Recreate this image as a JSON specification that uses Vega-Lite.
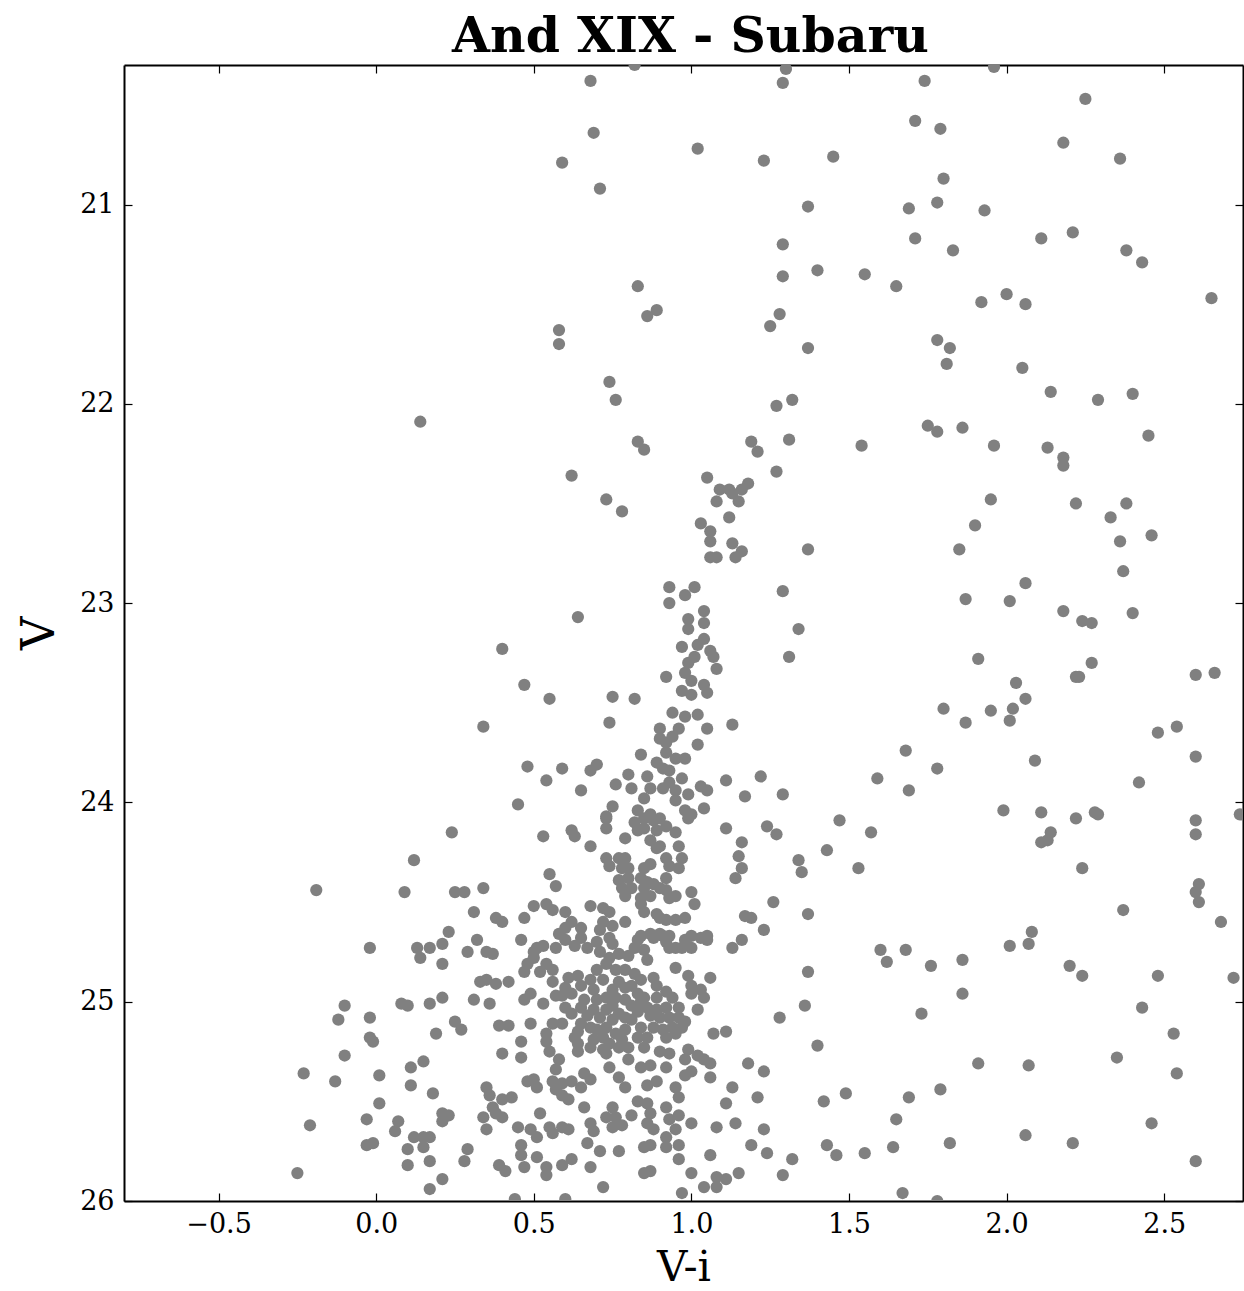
{
"$schema": "https://vega.github.io/schema/vega-lite/v6.json",
"width": 1119, "height": 1136,
"autosize": {"type": "none"},
"padding": {"left": 124, "top": 65, "right": 1, "bottom": 90},
"background": "white",
"title": {"text": "And XIX - Subaru", "font": "DejaVu Serif", "fontSize": 49, "fontWeight": "bold", "color": "black", "offset": 0, "dy": 0, "dx": 7, "anchor": "middle"},
"config": {"view": {"stroke": null},
 "axis": {"grid": false, "domainColor": "black", "domainWidth": 2, "tickColor": "black", "tickWidth": 1.2, "tickSize": -8, "labelFont": "DejaVu Serif", "labelFontSize": 27, "labelColor": "black", "titleFont": "DejaVu Serif", "titleFontWeight": "normal", "titleColor": "black"}},
"datasets": {"pts": [
{"vi":0.82,"V":20.30},{"vi":0.68,"V":20.38},{"vi":1.30,"V":20.32},{"vi":1.29,"V":20.39},{"vi":0.69,"V":20.64},{"vi":1.02,"V":20.72},{"vi":0.59,"V":20.79},{"vi":1.23,"V":20.78},{"vi":1.45,"V":20.76},{"vi":0.71,"V":20.92},{"vi":1.37,"V":21.01},{"vi":1.29,"V":21.20},{"vi":1.40,"V":21.33},{"vi":1.29,"V":21.36},{"vi":0.83,"V":21.41},{"vi":0.89,"V":21.53},{"vi":0.86,"V":21.56},{"vi":0.58,"V":21.63},{"vi":0.58,"V":21.70},{"vi":1.28,"V":21.55},{"vi":1.25,"V":21.61},{"vi":1.37,"V":21.72},{"vi":0.74,"V":21.89},{"vi":0.76,"V":21.98},{"vi":1.27,"V":22.01},{"vi":1.32,"V":21.98},{"vi":0.83,"V":22.19},{"vi":0.85,"V":22.23},{"vi":1.19,"V":22.19},{"vi":1.21,"V":22.24},{"vi":1.31,"V":22.18},{"vi":0.62,"V":22.36},{"vi":1.05,"V":22.37},{"vi":1.27,"V":22.34},{"vi":1.09,"V":22.43},{"vi":1.12,"V":22.43},{"vi":1.16,"V":22.43},{"vi":1.18,"V":22.40},{"vi":1.13,"V":22.45},{"vi":1.08,"V":22.49},{"vi":1.15,"V":22.49},{"vi":0.73,"V":22.48},{"vi":0.78,"V":22.54},{"vi":1.12,"V":22.57},{"vi":1.03,"V":22.60},{"vi":1.06,"V":22.64},{"vi":1.06,"V":22.69},{"vi":1.13,"V":22.70},{"vi":1.16,"V":22.74},{"vi":1.37,"V":22.73},{"vi":1.06,"V":22.77},{"vi":1.08,"V":22.77},{"vi":1.14,"V":22.77},{"vi":0.14,"V":22.09},
{"vi":1.74,"V":20.38},{"vi":1.96,"V":20.31},{"vi":2.25,"V":20.47},{"vi":1.71,"V":20.58},{"vi":1.79,"V":20.62},{"vi":2.18,"V":20.69},{"vi":2.36,"V":20.77},{"vi":1.80,"V":20.87},{"vi":1.69,"V":21.02},{"vi":1.78,"V":20.99},{"vi":1.93,"V":21.03},{"vi":1.71,"V":21.17},{"vi":1.83,"V":21.23},{"vi":2.11,"V":21.17},{"vi":2.21,"V":21.14},{"vi":2.38,"V":21.23},{"vi":2.43,"V":21.29},{"vi":1.55,"V":21.35},{"vi":1.65,"V":21.41},{"vi":2.00,"V":21.45},{"vi":1.92,"V":21.49},{"vi":2.06,"V":21.50},{"vi":2.65,"V":21.47},{"vi":1.78,"V":21.68},{"vi":1.82,"V":21.72},{"vi":1.81,"V":21.80},{"vi":2.05,"V":21.82},{"vi":2.14,"V":21.94},{"vi":2.29,"V":21.98},{"vi":2.40,"V":21.95},{"vi":1.54,"V":22.21},{"vi":1.75,"V":22.11},{"vi":1.78,"V":22.14},{"vi":1.86,"V":22.12},{"vi":1.96,"V":22.21},{"vi":2.13,"V":22.22},{"vi":2.18,"V":22.27},{"vi":2.18,"V":22.31},{"vi":2.45,"V":22.16},{"vi":2.22,"V":22.50},{"vi":2.38,"V":22.50},{"vi":1.95,"V":22.48},{"vi":1.90,"V":22.61},{"vi":2.33,"V":22.57},{"vi":1.85,"V":22.73},{"vi":2.46,"V":22.66},{"vi":2.36,"V":22.69},{"vi":2.37,"V":22.84},{"vi":1.87,"V":22.98},{"vi":1.29,"V":22.94},
{"vi":2.06,"V":22.90},{"vi":2.01,"V":22.99},{"vi":2.18,"V":23.04},{"vi":2.24,"V":23.09},{"vi":2.27,"V":23.10},{"vi":2.40,"V":23.05},{"vi":1.34,"V":23.13},{"vi":1.31,"V":23.27},{"vi":1.91,"V":23.28},{"vi":2.27,"V":23.30},{"vi":2.22,"V":23.37},{"vi":2.23,"V":23.37},{"vi":2.60,"V":23.36},{"vi":2.66,"V":23.35},{"vi":2.03,"V":23.40},{"vi":2.06,"V":23.48},{"vi":1.80,"V":23.53},{"vi":1.95,"V":23.54},{"vi":2.02,"V":23.53},{"vi":2.01,"V":23.59},{"vi":1.87,"V":23.60},{"vi":2.54,"V":23.62},{"vi":2.48,"V":23.65},{"vi":1.68,"V":23.74},{"vi":2.09,"V":23.79},{"vi":2.60,"V":23.77},{"vi":1.78,"V":23.83},{"vi":1.59,"V":23.88},{"vi":2.42,"V":23.90},{"vi":1.69,"V":23.94},{"vi":1.29,"V":23.96},{"vi":1.99,"V":24.04},{"vi":2.11,"V":24.05},{"vi":2.28,"V":24.05},{"vi":2.29,"V":24.06},{"vi":2.22,"V":24.08},{"vi":2.60,"V":24.09},{"vi":2.74,"V":24.06},{"vi":1.47,"V":24.09},{"vi":1.57,"V":24.15},{"vi":2.14,"V":24.15},{"vi":2.13,"V":24.19},{"vi":2.11,"V":24.20},{"vi":2.60,"V":24.16},{"vi":1.43,"V":24.24},{"vi":1.34,"V":24.29},{"vi":1.35,"V":24.35},{"vi":1.53,"V":24.33},{"vi":2.24,"V":24.33},{"vi":2.60,"V":24.45},{"vi":2.61,"V":24.41},{"vi":2.61,"V":24.50},{"vi":2.37,"V":24.54},{"vi":1.37,"V":24.56},{"vi":2.68,"V":24.60},{"vi":2.08,"V":24.65},{"vi":2.07,"V":24.71},{"vi":2.01,"V":24.72},{"vi":1.68,"V":24.74},{"vi":1.60,"V":24.74},{"vi":1.62,"V":24.80},{"vi":1.76,"V":24.82},{"vi":1.86,"V":24.79},{"vi":2.20,"V":24.82},{"vi":2.24,"V":24.87},{"vi":2.48,"V":24.87},{"vi":2.72,"V":24.88},{"vi":1.37,"V":24.85},{"vi":1.86,"V":24.96},{"vi":2.43,"V":25.03},{"vi":1.36,"V":25.02},{"vi":1.73,"V":25.06},{"vi":1.28,"V":25.08},{"vi":2.53,"V":25.16},{"vi":1.40,"V":25.22},{"vi":2.35,"V":25.28},{"vi":1.91,"V":25.31},{"vi":2.07,"V":25.32},{"vi":2.54,"V":25.36},{"vi":1.79,"V":25.44},{"vi":1.69,"V":25.48},{"vi":1.49,"V":25.46},{"vi":1.42,"V":25.50},{"vi":1.65,"V":25.59},{"vi":2.46,"V":25.61},{"vi":2.06,"V":25.67},{"vi":1.82,"V":25.71},{"vi":1.43,"V":25.72},{"vi":1.64,"V":25.73},{"vi":1.55,"V":25.76},{"vi":1.46,"V":25.77},{"vi":2.21,"V":25.71},{"vi":2.60,"V":25.80},{"vi":1.32,"V":25.79},{"vi":1.67,"V":25.96},{"vi":1.78,"V":26.00},
{"vi":0.93,"V":22.92},{"vi":1.01,"V":22.92},{"vi":0.98,"V":22.96},{"vi":0.93,"V":23.00},{"vi":0.64,"V":23.07},{"vi":1.04,"V":23.04},{"vi":0.99,"V":23.08},{"vi":1.04,"V":23.10},{"vi":0.99,"V":23.13},{"vi":1.04,"V":23.18},{"vi":1.02,"V":23.21},{"vi":1.06,"V":23.24},{"vi":1.07,"V":23.27},{"vi":0.97,"V":23.22},{"vi":1.01,"V":23.27},{"vi":0.99,"V":23.30},{"vi":1.08,"V":23.33},{"vi":0.98,"V":23.35},{"vi":0.92,"V":23.37},{"vi":1.00,"V":23.39},{"vi":1.04,"V":23.41},{"vi":0.97,"V":23.44},{"vi":1.00,"V":23.46},{"vi":1.05,"V":23.45},{"vi":0.75,"V":23.47},{"vi":0.82,"V":23.48},{"vi":0.94,"V":23.55},{"vi":0.98,"V":23.57},{"vi":1.02,"V":23.56},{"vi":0.74,"V":23.60},{"vi":1.13,"V":23.61},{"vi":0.90,"V":23.63},{"vi":0.96,"V":23.63},{"vi":1.05,"V":23.63},{"vi":0.90,"V":23.68},{"vi":0.94,"V":23.67},{"vi":0.92,"V":23.70},{"vi":1.02,"V":23.71},{"vi":0.84,"V":23.76},{"vi":0.92,"V":23.75},{"vi":0.95,"V":23.78},{"vi":0.98,"V":23.78},{"vi":0.89,"V":23.80},{"vi":0.91,"V":23.83},{"vi":0.93,"V":23.84},{"vi":0.59,"V":23.83},{"vi":0.68,"V":23.84},{"vi":0.70,"V":23.81},{"vi":0.80,"V":23.86},{"vi":0.86,"V":23.87},{"vi":0.97,"V":23.88},{"vi":1.22,"V":23.87},{"vi":1.11,"V":23.89},{"vi":0.65,"V":23.94},{"vi":0.76,"V":23.91},{"vi":0.81,"V":23.93},{"vi":0.93,"V":23.90},{"vi":0.91,"V":23.93},{"vi":0.95,"V":23.94},{"vi":1.03,"V":23.92},{"vi":1.05,"V":23.94},{"vi":0.87,"V":23.93},{"vi":0.99,"V":23.96},{"vi":1.17,"V":23.97},{"vi":0.85,"V":23.98},{"vi":0.95,"V":23.99},{"vi":0.75,"V":24.02},{"vi":0.73,"V":24.07},{"vi":0.83,"V":24.04},{"vi":0.87,"V":24.06},{"vi":0.98,"V":24.04},{"vi":1.04,"V":24.03},{"vi":1.00,"V":24.06},
{"vi":0.40,"V":23.23},{"vi":0.47,"V":23.41},{"vi":0.55,"V":23.48},{"vi":0.34,"V":23.62},{"vi":0.48,"V":23.82},{"vi":0.54,"V":23.89},{"vi":0.45,"V":24.01},
{"vi":0.62,"V":24.14},{"vi":0.63,"V":24.17},{"vi":0.73,"V":24.08},{"vi":0.73,"V":24.13},{"vi":0.68,"V":24.22},{"vi":0.79,"V":24.18},{"vi":0.82,"V":24.10},{"vi":0.85,"V":24.08},{"vi":0.88,"V":24.09},{"vi":0.90,"V":24.08},{"vi":0.83,"V":24.14},{"vi":0.85,"V":24.13},{"vi":0.89,"V":24.14},{"vi":0.92,"V":24.12},{"vi":0.95,"V":24.15},{"vi":0.87,"V":24.19},{"vi":0.90,"V":24.22},{"vi":0.89,"V":24.23},{"vi":0.96,"V":24.22},{"vi":0.99,"V":24.08},{"vi":0.73,"V":24.28},{"vi":0.77,"V":24.28},{"vi":0.79,"V":24.28},{"vi":0.74,"V":24.32},{"vi":0.78,"V":24.33},{"vi":0.80,"V":24.33},{"vi":0.85,"V":24.33},{"vi":0.87,"V":24.31},{"vi":0.92,"V":24.28},{"vi":0.97,"V":24.28},{"vi":0.93,"V":24.32},{"vi":0.96,"V":24.33},{"vi":0.92,"V":24.38},{"vi":0.77,"V":24.39},{"vi":0.80,"V":24.38},{"vi":0.84,"V":24.38},{"vi":0.86,"V":24.40},{"vi":0.88,"V":24.41},{"vi":0.90,"V":24.43},{"vi":0.78,"V":24.43},{"vi":0.81,"V":24.43},{"vi":0.85,"V":24.43},{"vi":0.79,"V":24.47},{"vi":0.84,"V":24.48},{"vi":0.87,"V":24.47},{"vi":0.92,"V":24.44},{"vi":0.95,"V":24.47},{"vi":0.93,"V":24.48},{"vi":1.00,"V":24.45},{"vi":1.01,"V":24.51},{"vi":0.84,"V":24.51},{"vi":0.85,"V":24.55},{"vi":0.68,"V":24.52},{"vi":0.72,"V":24.53},{"vi":0.74,"V":24.55},{"vi":0.60,"V":24.55},{"vi":0.89,"V":24.56},{"vi":0.90,"V":24.58},{"vi":0.92,"V":24.59},{"vi":0.95,"V":24.59},{"vi":0.98,"V":24.58},{"vi":0.79,"V":24.60},{"vi":0.72,"V":24.60},{"vi":0.75,"V":24.62},{"vi":0.71,"V":24.64},{"vi":0.62,"V":24.60},{"vi":0.65,"V":24.63},{"vi":0.60,"V":24.63},{"vi":0.84,"V":24.67},{"vi":0.87,"V":24.66},{"vi":0.90,"V":24.66},{"vi":0.93,"V":24.67},{"vi":1.05,"V":24.67},
{"vi":0.53,"V":24.17},{"vi":0.55,"V":24.36},{"vi":0.57,"V":24.42},{"vi":0.50,"V":24.52},{"vi":0.54,"V":24.51},{"vi":0.56,"V":24.54},{"vi":0.47,"V":24.58},{"vi":0.58,"V":24.66},{"vi":0.51,"V":24.73},{"vi":0.53,"V":24.72},{"vi":0.50,"V":24.75},{"vi":0.50,"V":24.78},{"vi":0.57,"V":24.73},{"vi":0.46,"V":24.69},{"vi":0.48,"V":24.81},{"vi":0.47,"V":24.85},{"vi":0.54,"V":24.81},{"vi":0.56,"V":24.84},{"vi":0.52,"V":24.85},{"vi":0.47,"V":24.99},{"vi":0.49,"V":24.96},{"vi":0.53,"V":25.01},{"vi":0.57,"V":24.97},{"vi":1.03,"V":24.68},{"vi":0.98,"V":24.69},{"vi":0.97,"V":24.73},{"vi":1.00,"V":24.73},
{"vi":0.60,"V":24.69},{"vi":0.63,"V":24.72},{"vi":0.65,"V":24.68},{"vi":0.67,"V":24.73},{"vi":0.70,"V":24.70},{"vi":0.74,"V":24.68},{"vi":0.75,"V":24.71},{"vi":0.83,"V":24.69},{"vi":0.82,"V":24.73},{"vi":0.85,"V":24.74},{"vi":0.80,"V":24.77},{"vi":0.86,"V":24.79},{"vi":0.88,"V":24.68},{"vi":0.91,"V":24.67},{"vi":0.93,"V":24.73},{"vi":0.95,"V":24.73},{"vi":0.92,"V":24.70},{"vi":1.00,"V":24.67},{"vi":1.05,"V":24.69},{"vi":0.95,"V":24.83},{"vi":0.88,"V":24.88},{"vi":0.99,"V":24.87},{"vi":1.00,"V":24.92},{"vi":1.03,"V":24.94},{"vi":1.00,"V":24.96},{"vi":1.06,"V":24.88},{"vi":1.04,"V":24.98},{"vi":1.02,"V":25.04},{"vi":1.07,"V":25.16},{"vi":0.61,"V":24.88},{"vi":0.60,"V":24.93},{"vi":0.62,"V":24.96},{"vi":0.65,"V":24.92},{"vi":0.68,"V":24.89},{"vi":0.70,"V":24.84},{"vi":0.73,"V":24.81},{"vi":0.74,"V":24.78},{"vi":0.77,"V":24.76},{"vi":0.76,"V":24.84},{"vi":0.72,"V":24.89},{"vi":0.69,"V":24.94},{"vi":0.59,"V":24.97},{"vi":0.79,"V":24.84},{"vi":0.82,"V":24.86},{"vi":0.84,"V":24.89},{"vi":0.81,"V":24.92},{"vi":0.79,"V":24.93},{"vi":0.83,"V":24.96},{"vi":0.85,"V":24.98},{"vi":0.77,"V":24.90},{"vi":0.75,"V":24.94},{"vi":0.73,"V":24.98},{"vi":0.76,"V":24.98},{"vi":0.79,"V":24.99},{"vi":0.84,"V":25.00},{"vi":0.86,"V":25.03},{"vi":0.89,"V":24.98},{"vi":0.94,"V":24.98},{"vi":0.96,"V":25.03},{"vi":0.92,"V":25.03},{"vi":0.89,"V":25.04},{"vi":0.90,"V":25.08},{"vi":0.93,"V":25.08},{"vi":0.96,"V":25.08},{"vi":0.98,"V":25.10},{"vi":0.94,"V":25.13},{"vi":0.91,"V":25.14},{"vi":0.88,"V":25.13},{"vi":0.95,"V":25.16},{"vi":0.92,"V":25.18},{"vi":0.62,"V":25.06},{"vi":0.65,"V":25.03},{"vi":0.67,"V":25.07},{"vi":0.69,"V":25.04},{"vi":0.71,"V":25.08},{"vi":0.73,"V":25.04},{"vi":0.65,"V":25.11},{"vi":0.68,"V":25.13},{"vi":0.70,"V":25.14},{"vi":0.73,"V":25.13},{"vi":0.75,"V":25.09},{"vi":0.77,"V":25.06},{"vi":0.79,"V":25.08},{"vi":0.81,"V":25.09},{"vi":0.84,"V":25.13},{"vi":0.79,"V":25.14},{"vi":0.76,"V":25.16},{"vi":0.72,"V":25.18},{"vi":0.69,"V":25.19},{"vi":0.74,"V":25.21},{"vi":0.78,"V":25.19},{"vi":0.83,"V":25.18},{"vi":0.86,"V":25.18},{"vi":0.85,"V":25.23},{"vi":0.80,"V":25.23},{"vi":0.77,"V":25.23},{"vi":0.72,"V":25.24},{"vi":0.68,"V":25.23},{"vi":0.64,"V":25.21},{"vi":0.63,"V":25.18},{"vi":0.59,"V":25.11},{"vi":0.90,"V":25.25},{"vi":0.93,"V":25.26},{"vi":0.99,"V":25.24},{"vi":1.02,"V":25.27},
{"vi":0.66,"V":24.99},{"vi":0.70,"V":24.99},{"vi":0.81,"V":25.02},{"vi":0.87,"V":25.07},{"vi":0.83,"V":25.05},{"vi":0.75,"V":25.02},{"vi":0.60,"V":25.03},{"vi":0.64,"V":24.87},{"vi":0.56,"V":24.90},{"vi":0.89,"V":24.92},{"vi":0.92,"V":24.95},{"vi":0.97,"V":25.13},{"vi":0.71,"V":24.75},{"vi":0.64,"V":25.15},
{"vi":0.49,"V":25.11},{"vi":0.56,"V":25.11},{"vi":0.54,"V":25.16},{"vi":0.54,"V":25.20},{"vi":0.46,"V":25.20},{"vi":0.46,"V":25.28},{"vi":0.64,"V":25.25},{"vi":0.73,"V":25.26},{"vi":0.74,"V":25.33},{"vi":0.55,"V":25.25},{"vi":0.58,"V":25.29},{"vi":0.57,"V":25.34},{"vi":0.80,"V":25.29},{"vi":0.84,"V":25.33},{"vi":0.87,"V":25.32},{"vi":0.92,"V":25.33},{"vi":0.98,"V":25.29},{"vi":1.04,"V":25.29},{"vi":1.06,"V":25.31},{"vi":1.00,"V":25.35},{"vi":0.98,"V":25.37},{"vi":1.11,"V":25.15},{"vi":1.18,"V":25.31},{"vi":1.06,"V":25.38},{"vi":0.48,"V":25.40},{"vi":0.50,"V":25.39},{"vi":0.51,"V":25.43},{"vi":0.56,"V":25.40},{"vi":0.59,"V":25.41},{"vi":0.57,"V":25.44},{"vi":0.59,"V":25.47},{"vi":0.62,"V":25.40},{"vi":0.66,"V":25.36},{"vi":0.68,"V":25.39},{"vi":0.65,"V":25.43},{"vi":0.77,"V":25.38},{"vi":0.79,"V":25.43},{"vi":0.86,"V":25.42},{"vi":0.89,"V":25.40},{"vi":0.95,"V":25.43},{"vi":0.96,"V":25.48},{"vi":0.61,"V":25.49},{"vi":0.66,"V":25.53},{"vi":1.13,"V":25.43},{"vi":1.11,"V":25.51},{"vi":0.83,"V":25.50},{"vi":0.86,"V":25.51},{"vi":0.87,"V":25.56},{"vi":0.86,"V":25.61},{"vi":0.88,"V":25.64},{"vi":0.75,"V":25.53},{"vi":0.73,"V":25.58},{"vi":0.76,"V":25.58},{"vi":0.78,"V":25.62},{"vi":0.75,"V":25.63},{"vi":0.81,"V":25.57},{"vi":0.92,"V":25.53},{"vi":0.93,"V":25.59},{"vi":0.96,"V":25.57},{"vi":0.95,"V":25.64},{"vi":0.92,"V":25.68},{"vi":1.00,"V":25.61},{"vi":0.52,"V":25.56},{"vi":0.45,"V":25.63},{"vi":0.49,"V":25.64},{"vi":0.51,"V":25.68},{"vi":0.55,"V":25.63},{"vi":0.56,"V":25.66},{"vi":0.59,"V":25.63},{"vi":0.61,"V":25.64},{"vi":0.68,"V":25.61},{"vi":0.69,"V":25.65},{"vi":0.67,"V":25.71},{"vi":0.71,"V":25.75},{"vi":0.77,"V":25.75},{"vi":0.85,"V":25.73},{"vi":0.87,"V":25.72},{"vi":0.92,"V":25.73},{"vi":0.96,"V":25.72},{"vi":0.96,"V":25.79},{"vi":1.08,"V":25.63},{"vi":1.14,"V":25.61},{"vi":1.19,"V":25.72},{"vi":1.06,"V":25.77},{"vi":0.46,"V":25.72},{"vi":0.46,"V":25.77},{"vi":0.47,"V":25.83},{"vi":0.51,"V":25.78},{"vi":0.54,"V":25.83},{"vi":0.54,"V":25.87},{"vi":0.59,"V":25.82},{"vi":0.62,"V":25.79},{"vi":0.68,"V":25.83},{"vi":0.85,"V":25.86},{"vi":0.87,"V":25.85},{"vi":0.72,"V":25.93},{"vi":1.00,"V":25.86},{"vi":1.04,"V":25.93},{"vi":1.08,"V":25.88},{"vi":1.11,"V":25.89},{"vi":1.15,"V":25.86},{"vi":0.97,"V":25.96},{"vi":0.60,"V":25.99},{"vi":0.44,"V":25.99},{"vi":1.08,"V":25.93},
{"vi":1.24,"V":24.12},{"vi":1.27,"V":24.16},{"vi":1.26,"V":24.50},{"vi":1.17,"V":24.57},{"vi":1.19,"V":24.58},{"vi":1.23,"V":24.64},{"vi":1.16,"V":24.69},{"vi":1.13,"V":24.73},{"vi":1.23,"V":25.35},{"vi":1.21,"V":25.48},{"vi":1.23,"V":25.64},{"vi":1.24,"V":25.76},{"vi":1.29,"V":25.87},{"vi":1.11,"V":24.13},{"vi":1.16,"V":24.20},{"vi":1.15,"V":24.27},{"vi":1.16,"V":24.33},{"vi":1.14,"V":24.38},
{"vi":0.24,"V":24.15},{"vi":0.12,"V":24.29},{"vi":-0.19,"V":24.44},{"vi":0.09,"V":24.45},{"vi":0.25,"V":24.45},{"vi":0.28,"V":24.45},{"vi":0.34,"V":24.43},{"vi":0.31,"V":24.55},{"vi":0.38,"V":24.58},{"vi":0.40,"V":24.60},{"vi":0.23,"V":24.65},{"vi":0.32,"V":24.69},{"vi":-0.02,"V":24.73},{"vi":0.13,"V":24.73},{"vi":0.17,"V":24.73},{"vi":0.21,"V":24.71},{"vi":0.14,"V":24.78},{"vi":0.21,"V":24.81},{"vi":0.29,"V":24.75},{"vi":0.35,"V":24.75},{"vi":0.37,"V":24.76},{"vi":0.33,"V":24.90},{"vi":0.35,"V":24.89},{"vi":0.38,"V":24.91},{"vi":0.42,"V":24.90},{"vi":-0.10,"V":25.02},{"vi":0.08,"V":25.01},{"vi":0.10,"V":25.02},{"vi":0.17,"V":25.01},{"vi":0.21,"V":24.98},{"vi":0.31,"V":24.99},{"vi":0.36,"V":25.01},
{"vi":-0.12,"V":25.09},{"vi":-0.02,"V":25.08},{"vi":0.25,"V":25.10},{"vi":0.27,"V":25.14},{"vi":0.19,"V":25.16},{"vi":0.39,"V":25.12},{"vi":0.42,"V":25.12},{"vi":-0.02,"V":25.18},{"vi":-0.01,"V":25.20},{"vi":-0.10,"V":25.27},{"vi":0.40,"V":25.26},{"vi":0.15,"V":25.30},{"vi":0.11,"V":25.33},{"vi":-0.23,"V":25.36},{"vi":-0.13,"V":25.40},{"vi":0.01,"V":25.37},{"vi":0.11,"V":25.42},{"vi":0.18,"V":25.46},{"vi":0.35,"V":25.43},{"vi":0.36,"V":25.47},{"vi":0.40,"V":25.49},{"vi":0.43,"V":25.48},{"vi":0.01,"V":25.51},{"vi":0.21,"V":25.56},{"vi":0.23,"V":25.57},{"vi":0.21,"V":25.60},{"vi":0.37,"V":25.53},{"vi":0.38,"V":25.56},{"vi":0.40,"V":25.58},{"vi":0.34,"V":25.58},{"vi":-0.03,"V":25.59},{"vi":0.07,"V":25.60},{"vi":0.06,"V":25.65},{"vi":-0.21,"V":25.62},{"vi":0.35,"V":25.64},{"vi":0.12,"V":25.68},{"vi":0.15,"V":25.68},{"vi":0.17,"V":25.68},{"vi":0.10,"V":25.74},{"vi":0.15,"V":25.73},{"vi":-0.03,"V":25.72},{"vi":-0.01,"V":25.71},{"vi":0.29,"V":25.74},{"vi":0.28,"V":25.80},{"vi":0.17,"V":25.80},{"vi":0.10,"V":25.82},{"vi":0.39,"V":25.82},{"vi":0.41,"V":25.85},{"vi":-0.25,"V":25.86},{"vi":0.21,"V":25.89},{"vi":0.17,"V":25.94}
]},
"data": {"name": "pts"},
"layer": [
 {"mark": {"type": "point", "filled": true, "color": "#808080", "size": 150, "opacity": 1, "clip": true},
  "encoding": {
   "x": {"field": "vi", "type": "quantitative", "scale": {"domain": [-0.8, 2.75], "nice": false, "zero": false},
         "axis": {"orient": "bottom", "values": [-0.5, 0, 0.5, 1, 1.5, 2, 2.5], "format": ".1f", "labelPadding": 18, "title": "V-i", "titleFontSize": 42, "titlePadding": 10}},
   "y": {"field": "V", "type": "quantitative", "scale": {"domain": [20.3, 26], "reverse": true, "nice": false, "zero": false},
         "axis": {"orient": "left", "values": [21, 22, 23, 24, 25, 26], "format": "d", "labelPadding": 18, "title": "V", "titleFontSize": 46, "titlePadding": 16}}
  }},
 {"mark": {"type": "point", "opacity": 0},
  "encoding": {
   "x": {"field": "vi", "type": "quantitative", "scale": {"domain": [-0.8, 2.75], "nice": false, "zero": false},
         "axis": {"orient": "top", "values": [-0.5, 0, 0.5, 1, 1.5, 2, 2.5], "labels": false, "title": null}},
   "y": {"field": "V", "type": "quantitative", "scale": {"domain": [20.3, 26], "reverse": true, "nice": false, "zero": false},
         "axis": {"orient": "right", "values": [21, 22, 23, 24, 25, 26], "labels": false, "title": null}}
  }}
],
"resolve": {"scale": {"x": "independent", "y": "independent"}, "axis": {"x": "independent", "y": "independent"}}
}
